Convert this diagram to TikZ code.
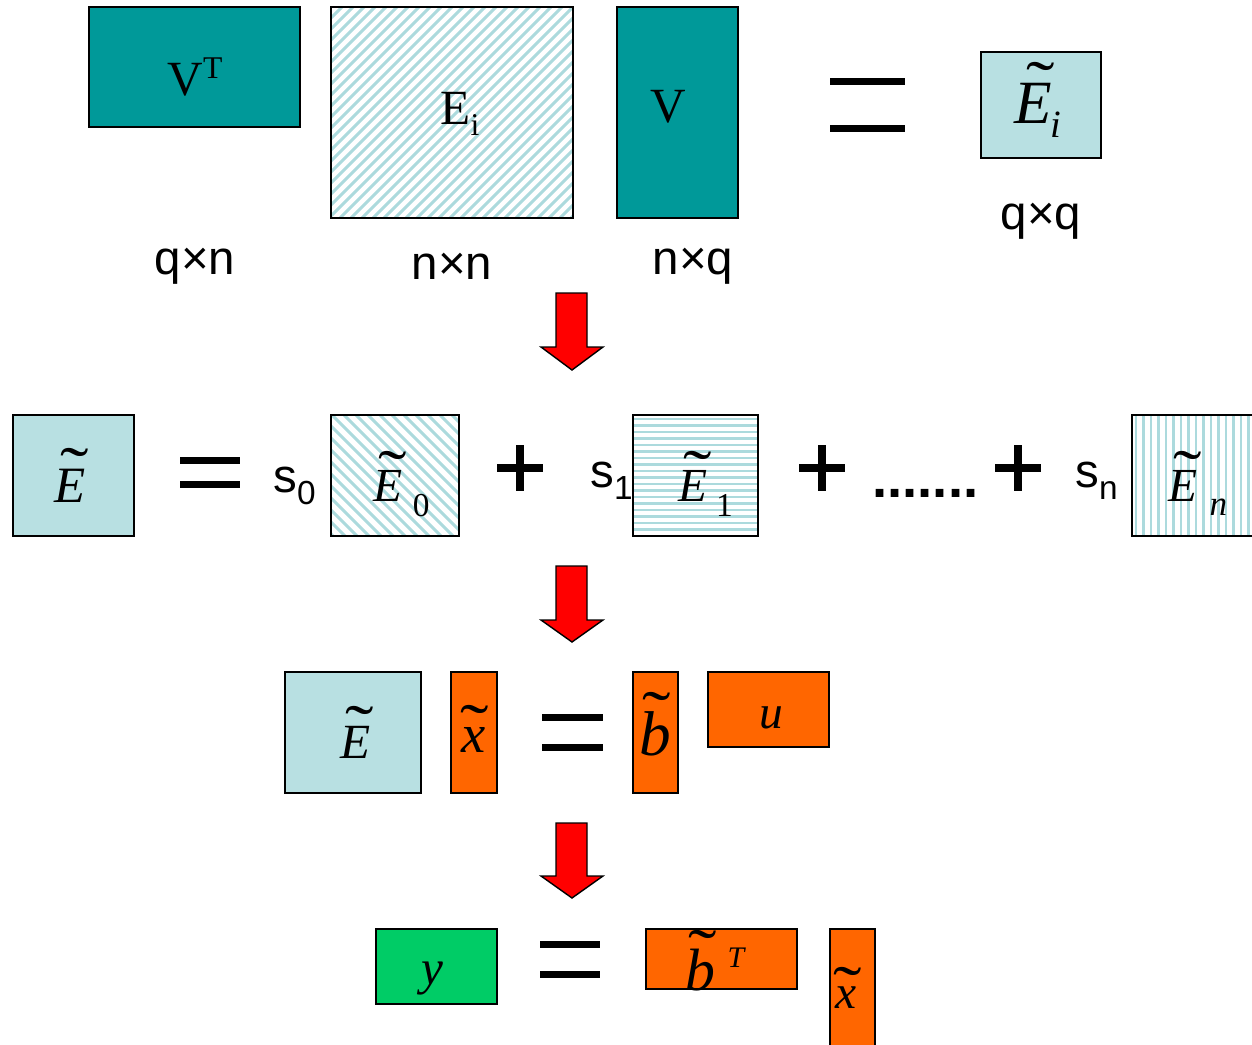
\documentclass[tikz,border=0pt]{standalone}
\usepackage{graphicx}
\usepackage{fontspec}
\setmainfont{Liberation Serif}
\newfontfamily\arial{Liberation Sans}
\definecolor{tealb}{RGB}{0,153,153}
\definecolor{lblue}{RGB}{184,224,226}
\definecolor{stripec}{RGB}{172,218,221}
\definecolor{orng}{RGB}{255,102,0}
\definecolor{grn}{RGB}{0,204,102}
% letter with a wide tilde: #1 letter (size, italic), #2 horizontal kern, #3 raise
\newcommand{\tl}[3]{\ooalign{{#1}\cr\hidewidth\kern#2\raisebox{#3}{\fontsize{27}{27}\selectfont\upshape\scalebox{1.8}[1.35]{\char"02DC}}\hidewidth\cr}}
\newcommand{\sz}[1]{\fontsize{#1}{#1}\selectfont\itshape}
\newcommand{\subs}[3]{\raisebox{#1}{\fontsize{#2}{#2}\selectfont #3}}
\tikzset{
  box/.style={draw=black, line width=1.1pt},
  stripe/.style={draw=stripec, line width=1.8pt},
  stripeh/.style={draw=stripec, line width=1.6pt},
  serif/.style={font=\fontsize{28}{32}\selectfont, inner sep=0pt},
  mathf/.style={inner sep=0pt, anchor=base west},
  sans/.style={font=\arial\fontsize{27}{31}\selectfont, inner sep=0pt},
  eqbar/.style={fill=black},
  plusbar/.style={fill=black},
  redarrow/.style={fill=red, draw=black, line width=0.8pt, line join=miter},
}
\begin{document}
\begin{tikzpicture}[x=0.02cm,y=-0.02cm]
\useasboundingbox (0,0) rectangle (1252,1045);
\clip (0,0) rectangle (1252,1045);

% ---------- Row 1 ----------
\filldraw[box, fill=tealb] (89,7) rectangle (300,127);
\node[serif] (vt) at (195,77) {V\raisebox{10pt}{\fontsize{18}{20}\selectfont T}};

\begin{scope}
  \clip (331,7) rectangle (573,218);
  \foreach \t in {120,131,...,573} \draw[stripe] (\t,218) -- ++(211,-211);
\end{scope}
\draw[box] (331,7) rectangle (573,218);
\node[serif] (ei) at (460,114) {E\raisebox{-6pt}{\fontsize{18}{20}\selectfont i}};

\filldraw[box, fill=tealb] (617,7) rectangle (738,218);
\node[serif] (v) at (668,107) {V};

\fill[eqbar] (830,78) rectangle (905,85);
\fill[eqbar] (830,125) rectangle (905,132);

\filldraw[box, fill=lblue] (981,52) rectangle (1101,158);
\node[mathf] (eti) at (1014,123) {\tl{\sz{35}E}{9pt}{9.8pt}\kern-1pt\subs{-8.5pt}{22}{\itshape i}};

\node[sans] (qn) at (195,266) {q×n};
\node[sans] (nn) at (452,266) {n×n};
\node[sans] (nq) at (693,266) {n×q};
\node[sans] (qq) at (1041,221) {q×q};

% ---------- Arrow 1 ----------
\filldraw[redarrow] (556,293) -- (587,293) -- (587,347) -- (603,347) -- (572,370) -- (541,347) -- (556,347) -- cycle;

% ---------- Row 2 ----------
\filldraw[box, fill=lblue] (13,415) rectangle (134,536);
\node[mathf] (e) at (54,502) {\tl{\sz{29}E}{5pt}{5.8pt}};

\fill[eqbar] (180,457) rectangle (240,464);
\fill[eqbar] (180,481) rectangle (240,488);

\node[sans, anchor=base west] (s0) at (273,492) {s\subs{-7pt}{19}{0}};

\begin{scope}
  \clip (331,415) rectangle (459,536);
  \foreach \t in {200,212,...,460} \draw[stripe] (\t,415) -- ++(121,121);
\end{scope}
\draw[box] (331,415) rectangle (459,536);
\node[mathf] (e0) at (373,501) {\tl{\sz{27}E}{5pt}{3.6pt}\kern6pt\subs{-9pt}{19}{0}};

\fill[plusbar] (497,464) rectangle (543,472);
\fill[plusbar] (516,445) rectangle (524,491);

\node[sans, anchor=base west] (s1) at (590,487) {s\subs{-7pt}{19}{1}};

\begin{scope}
  \clip (633,415) rectangle (758,536);
  \foreach \t in {419,425.5,...,536} \draw[stripeh] (633,\t) -- (758,\t);
\end{scope}
\draw[box] (633,415) rectangle (758,536);
\node[mathf] (e1) at (678,501) {\tl{\sz{27}E}{5pt}{3.6pt}\kern5pt\subs{-9pt}{19}{1}};

\fill[plusbar] (799,464) rectangle (845,472);
\fill[plusbar] (818,445) rectangle (826,491);

\node[font=\arial\bfseries\fontsize{31}{34}\selectfont, inner sep=0pt, anchor=base west] (dots) at (872,497) {.......};

\fill[plusbar] (995,464) rectangle (1041,472);
\fill[plusbar] (1014,445) rectangle (1022,491);

\node[sans, anchor=base west] (sn) at (1075,487) {s\subs{-7pt}{19}{n}};

\begin{scope}
  \clip (1132,415) rectangle (1260,536);
  \foreach \t in {1136,1143.5,...,1260} \draw[stripeh] (\t,415) -- (\t,536);
\end{scope}
\draw[box] (1132,415) rectangle (1262,536);
\node[mathf] (en) at (1168,501) {\tl{\sz{27}E}{5pt}{3.6pt}\kern7pt\subs{-8pt}{20}{\itshape n}};

% ---------- Arrow 2 ----------
\filldraw[redarrow] (556,566) -- (587,566) -- (587,620) -- (603,620) -- (572,642) -- (541,620) -- (556,620) -- cycle;

% ---------- Row 3 ----------
\filldraw[box, fill=lblue] (285,672) rectangle (421,793);
\node[mathf] (e3) at (340,758) {\tl{\sz{28}E}{5pt}{4.6pt}};

\filldraw[box, fill=orng] (451,672) rectangle (497,793);
\node[mathf] (x3) at (461,752) {\tl{\sz{31}x}{2pt}{1.9pt}};

\fill[eqbar] (542,714) rectangle (603,721);
\fill[eqbar] (542,744) rectangle (603,751);

\filldraw[box, fill=orng] (633,672) rectangle (678,793);
\node[mathf] (b3) at (639,755) {\tl{\sz{36}b}{2pt}{11pt}};

\filldraw[box, fill=orng] (708,672) rectangle (829,747);
\node[mathf] (u) at (759,728) {\sz{27}u};

% ---------- Arrow 3 ----------
\filldraw[redarrow] (556,823) -- (587,823) -- (587,876) -- (603,876) -- (572,898) -- (541,876) -- (556,876) -- cycle;

% ---------- Row 4 ----------
\filldraw[box, fill=grn] (376,929) rectangle (497,1004);
\node[mathf] (y) at (421,984) {\sz{28}y};

\fill[eqbar] (540,941) rectangle (600,948);
\fill[eqbar] (540,971) rectangle (600,978);

\filldraw[box, fill=orng] (646,929) rectangle (797,989);
\node[mathf] (bt) at (685,990) {\tl{\sz{34}b}{3pt}{9.2pt}\kern7pt\subs{13pt}{17}{\itshape T}};

\filldraw[box, fill=orng] (830,929) rectangle (875,1070);
\node[mathf] (x4) at (835,1008) {\tl{\sz{27}x}{2pt}{-1.5pt}};
\end{tikzpicture}
\end{document}
